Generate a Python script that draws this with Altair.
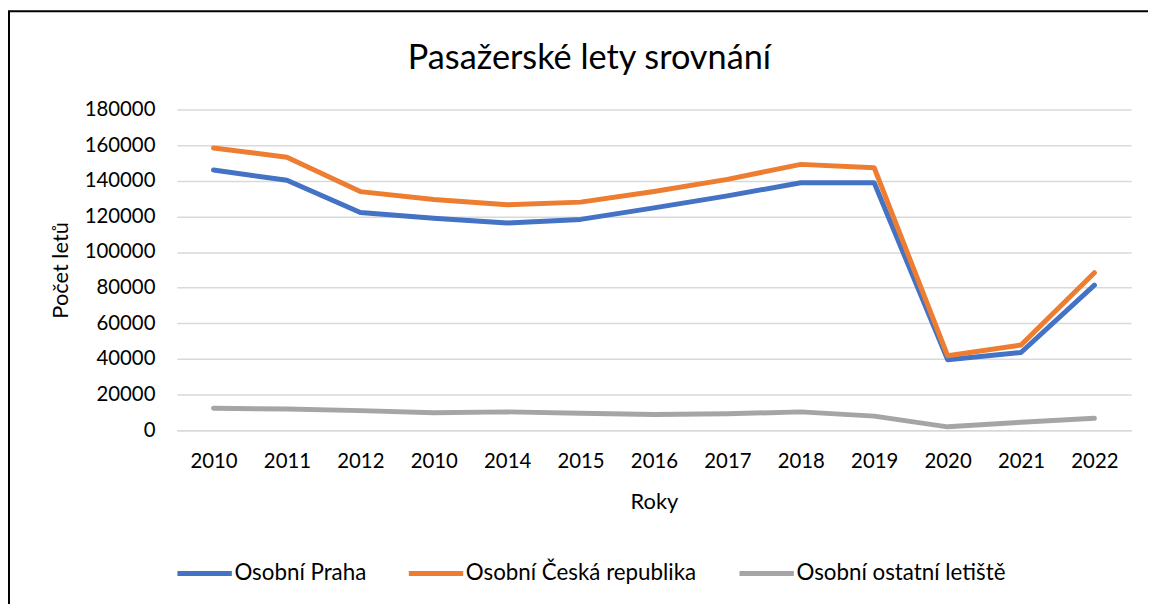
import altair as alt
import pandas as pd

years = ["2010", "2011", "2012", "2010", "2014", "2015", "2016", "2017", "2018", "2019", "2020", "2021", "2022"]
praha = [146000, 140300, 122200, 119000, 116300, 118300, 124800, 131500, 138900, 138900, 39600, 43600, 81400]
cr = [158400, 153200, 133900, 129500, 126500, 128000, 134000, 140800, 149200, 147300, 41800, 47800, 88400]
ostatni = [12300, 11900, 11000, 9800, 10300, 9500, 8800, 9200, 10300, 7900, 1900, 4500, 6700]
series = ["Osobní Praha", "Osobní Česká republika", "Osobní ostatní letiště"]
colors = ["#4472C4", "#ED7D31", "#A5A5A5"]

rows = []
for name, vals in zip(series, [praha, cr, ostatni]):
    for i, v in enumerate(vals):
        rows.append({"idx": i, "rok": years[i], "serie": name, "hodnota": v})
df = pd.DataFrame(rows)

FONT = "Lato"
label_expr = "[" + ",".join("'" + y + "'" for y in years) + "][datum.value]"

W, H = 961, 323

lines = alt.Chart(df).mark_line(strokeWidth=5, strokeCap="round", strokeJoin="round").encode(
    x=alt.X("idx:O", scale=alt.Scale(type="point", padding=0.5),
            axis=alt.Axis(title="Roky", labelExpr=label_expr, labelAngle=0, ticks=False,
                          domain=True, domainColor="#D9D9D9", domainWidth=1.5,
                          labelFontSize=20.5, labelPadding=22, titleFontSize=22,
                          titleFontWeight="normal", titlePadding=19, grid=False,
                          labelColor="#000000", titleColor="#000000")),
    y=alt.Y("hodnota:Q", scale=alt.Scale(domain=[0, 180000], nice=False),
            axis=alt.Axis(title="Počet letů", values=list(range(0, 180001, 20000)), format="d",
                          ticks=False, domain=False, gridColor="#D9D9D9", gridWidth=1.5,
                          labelFontSize=20.5, labelPadding=22, titleFontSize=22,
                          titleFontWeight="normal", titlePadding=12,
                          labelColor="#000000", titleColor="#000000")),
    color=alt.Color("serie:N", scale=alt.Scale(domain=series, range=colors),
                    sort=series,
                    legend=alt.Legend(title=None, orient="none", direction="horizontal",
                                      legendX=-2, legendY=437, symbolType="stroke",
                                      symbolSize=3000, symbolStrokeWidth=5,
                                      labelFontSize=22.5, labelFont=FONT, labelColor="#000000",
                                      columnPadding=32, labelOffset=0, labelLimit=400)),
    order="idx:O",
)

frame = alt.Chart(pd.DataFrame({"a": [0]})).mark_rect(fill=None, stroke="#000000", strokeWidth=2).encode(
    x=alt.value(-169), x2=alt.value(1000), y=alt.value(-99), y2=alt.value(540)
)

chart = alt.layer(lines, frame).properties(
    width=W, height=H,
    title=alt.TitleParams("Pasažerské lety srovnání", fontSize=34.5, font=FONT,
                          fontWeight="normal", anchor="middle", dx=-65, offset=0, dy=94,
                          baseline="alphabetic", color="#000000"),
    autosize=alt.AutoSizeParams(type="none"),
    padding={"left": 170, "top": 100, "right": 17, "bottom": 200},
).configure_view(stroke=None).configure_axis(labelFont=FONT, titleFont=FONT)

chart.save("out.html", embed_options={"renderer": "svg", "actions": False})
